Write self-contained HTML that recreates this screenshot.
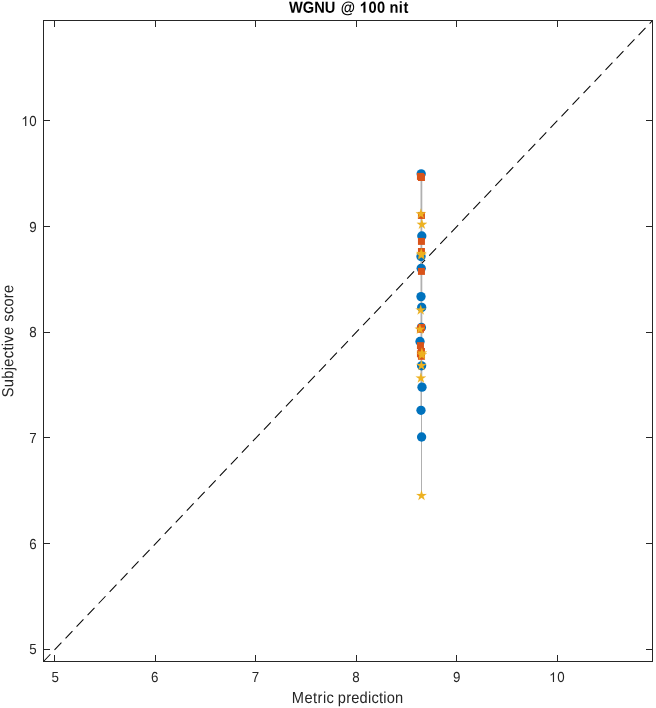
<!DOCTYPE html>
<html><head><meta charset="utf-8"><title>WGNU @ 100 nit</title>
<style>
html,body{margin:0;padding:0;background:#fff;}
body{width:656px;height:708px;overflow:hidden;}
svg{display:block;will-change:transform;font-family:"Liberation Sans",sans-serif;}
</style></head><body>
<svg width="656" height="708" viewBox="0 0 656 708">
<rect x="0" y="0" width="656" height="708" fill="#ffffff"/>
<rect x="420" y="174" width="1" height="236" fill="#d8d8d8"/>
<rect x="422" y="174" width="1" height="212" fill="#e8e8e8"/>
<line x1="43.5" y1="661.5" x2="652.5" y2="20.5" stroke="#0a0a0a" stroke-width="1.08" stroke-dasharray="10 6"/>
<rect x="421" y="174" width="1" height="321.5" fill="#b0b0b0"/>
<g fill="#0072BD">
<circle cx="421.2" cy="173.85" r="4.65"/>
<circle cx="421.8" cy="236" r="4.65"/>
<circle cx="421" cy="256.5" r="4.65"/>
<circle cx="421.2" cy="268.35" r="4.65"/>
<circle cx="421" cy="296.6" r="4.65"/>
<circle cx="421.7" cy="307.4" r="4.65"/>
<circle cx="421.4" cy="327.5" r="4.65"/>
<circle cx="420" cy="341.5" r="4.65"/>
<circle cx="421.6" cy="365.8" r="4.65"/>
<circle cx="422" cy="387.15" r="4.65"/>
<circle cx="421" cy="410.3" r="4.65"/>
<circle cx="421.6" cy="437" r="4.65"/>
</g>
<g fill="#D95319">
<rect x="416.95" y="172.90" width="7" height="7"/>
<rect x="417.95" y="174.00" width="7" height="7"/>
<rect x="417.95" y="211.95" width="7" height="7"/>
<rect x="417.95" y="237.90" width="7" height="7"/>
<rect x="417.95" y="248.00" width="7" height="7"/>
<rect x="417.95" y="267.90" width="7" height="7"/>
<rect x="417.95" y="323.90" width="7" height="7"/>
<rect x="416.95" y="325.80" width="7" height="7"/>
<rect x="416.95" y="342.15" width="7" height="7"/>
<rect x="417.95" y="348.00" width="7" height="7"/>
<rect x="416.95" y="350.30" width="7" height="7"/>
<rect x="417.95" y="352.80" width="7" height="7"/>
</g>
<g fill="#EDB120" stroke="#EDB120" stroke-width="0.15" stroke-linejoin="miter">
<polygon points="420.90,208.60 422.11,212.33 426.04,212.33 422.86,214.64 424.07,218.37 420.90,216.06 417.73,218.37 418.94,214.64 415.76,212.33 419.69,212.33"/>
<polygon points="421.90,219.10 423.11,222.83 427.04,222.83 423.86,225.14 425.07,228.87 421.90,226.56 418.73,228.87 419.94,225.14 416.76,222.83 420.69,222.83"/>
<polygon points="421.30,248.15 422.51,251.88 426.44,251.88 423.26,254.19 424.47,257.92 421.30,255.61 418.13,257.92 419.34,254.19 416.16,251.88 420.09,251.88"/>
<polygon points="421.30,249.70 422.51,253.43 426.44,253.43 423.26,255.74 424.47,259.47 421.30,257.16 418.13,259.47 419.34,255.74 416.16,253.43 420.09,253.43"/>
<polygon points="420.70,304.80 421.91,308.53 425.84,308.53 422.66,310.84 423.87,314.57 420.70,312.26 417.53,314.57 418.74,310.84 415.56,308.53 419.49,308.53"/>
<polygon points="419.90,323.90 421.11,327.63 425.04,327.63 421.86,329.94 423.07,333.67 419.90,331.36 416.73,333.67 417.94,329.94 414.76,327.63 418.69,327.63"/>
<polygon points="421.90,347.70 423.11,351.43 427.04,351.43 423.86,353.74 425.07,357.47 421.90,355.16 418.73,357.47 419.94,353.74 416.76,351.43 420.69,351.43"/>
<polygon points="421.90,349.50 423.11,353.23 427.04,353.23 423.86,355.54 425.07,359.27 421.90,356.96 418.73,359.27 419.94,355.54 416.76,353.23 420.69,353.23"/>
<polygon points="421.40,360.30 422.61,364.03 426.54,364.03 423.36,366.34 424.57,370.07 421.40,367.76 418.23,370.07 419.44,366.34 416.26,364.03 420.19,364.03"/>
<polygon points="420.90,372.75 422.11,376.48 426.04,376.48 422.86,378.79 424.07,382.52 420.90,380.21 417.73,382.52 418.94,378.79 415.76,376.48 419.69,376.48"/>
<polygon points="421.50,490.30 422.71,494.03 426.64,494.03 423.46,496.34 424.67,500.07 421.50,497.76 418.33,500.07 419.54,496.34 416.36,494.03 420.29,494.03"/>
</g>
<g stroke="#262626" stroke-width="1" fill="none" shape-rendering="crispEdges">
<rect x="43.5" y="20.5" width="609.0" height="641.0"/>
<line x1="54.5" y1="661.5" x2="54.5" y2="655.0"/>
<line x1="54.5" y1="20.5" x2="54.5" y2="27.0"/>
<line x1="155.5" y1="661.5" x2="155.5" y2="655.0"/>
<line x1="155.5" y1="20.5" x2="155.5" y2="27.0"/>
<line x1="255.5" y1="661.5" x2="255.5" y2="655.0"/>
<line x1="255.5" y1="20.5" x2="255.5" y2="27.0"/>
<line x1="356.5" y1="661.5" x2="356.5" y2="655.0"/>
<line x1="356.5" y1="20.5" x2="356.5" y2="27.0"/>
<line x1="456.5" y1="661.5" x2="456.5" y2="655.0"/>
<line x1="456.5" y1="20.5" x2="456.5" y2="27.0"/>
<line x1="557.5" y1="661.5" x2="557.5" y2="655.0"/>
<line x1="557.5" y1="20.5" x2="557.5" y2="27.0"/>
<line x1="43.5" y1="649.5" x2="50.0" y2="649.5"/>
<line x1="652.5" y1="649.5" x2="646.0" y2="649.5"/>
<line x1="43.5" y1="543.5" x2="50.0" y2="543.5"/>
<line x1="652.5" y1="543.5" x2="646.0" y2="543.5"/>
<line x1="43.5" y1="437.5" x2="50.0" y2="437.5"/>
<line x1="652.5" y1="437.5" x2="646.0" y2="437.5"/>
<line x1="43.5" y1="332.5" x2="50.0" y2="332.5"/>
<line x1="652.5" y1="332.5" x2="646.0" y2="332.5"/>
<line x1="43.5" y1="226.5" x2="50.0" y2="226.5"/>
<line x1="652.5" y1="226.5" x2="646.0" y2="226.5"/>
<line x1="43.5" y1="120.5" x2="50.0" y2="120.5"/>
<line x1="652.5" y1="120.5" x2="646.0" y2="120.5"/>
</g>
<text transform="translate(55.1,682) rotate(0.05) scale(1,1.09)" text-anchor="middle" font-size="13.33px" fill="#262626">5</text>
<text transform="translate(154.8,682) rotate(0.05) scale(1,1.09)" text-anchor="middle" font-size="13.33px" fill="#262626">6</text>
<text transform="translate(255.4,682) rotate(0.05) scale(1,1.09)" text-anchor="middle" font-size="13.33px" fill="#262626">7</text>
<text transform="translate(356.0,682) rotate(0.05) scale(1,1.09)" text-anchor="middle" font-size="13.33px" fill="#262626">8</text>
<text transform="translate(456.6,682) rotate(0.05) scale(1,1.09)" text-anchor="middle" font-size="13.33px" fill="#262626">9</text>
<path transform="translate(549.09,682) scale(0.006509,-0.006704)" d="M763 0L583 0L583 1147Q518 1085 412.5 1023Q307 961 223 930L223 1104Q374 1175 487 1276Q600 1377 647 1472L763 1472Z" fill="#262626"/>
<text transform="translate(557.2,682) rotate(0.05) scale(1,1.09)" text-anchor="start" font-size="13.33px" fill="#262626">0</text>
<text transform="translate(36.6,653.9) rotate(0.05) scale(1,1.09)" text-anchor="end" font-size="13.33px" fill="#262626">5</text>
<text transform="translate(36.6,548.9) rotate(0.05) scale(1,1.09)" text-anchor="end" font-size="13.33px" fill="#262626">6</text>
<text transform="translate(36.6,442.9) rotate(0.05) scale(1,1.09)" text-anchor="end" font-size="13.33px" fill="#262626">7</text>
<text transform="translate(36.6,336.9) rotate(0.05) scale(1,1.09)" text-anchor="end" font-size="13.33px" fill="#262626">8</text>
<text transform="translate(36.6,231.9) rotate(0.05) scale(1,1.09)" text-anchor="end" font-size="13.33px" fill="#262626">9</text>
<path transform="translate(21.32,125.9) scale(0.006509,-0.006704)" d="M763 0L583 0L583 1147Q518 1085 412.5 1023Q307 961 223 930L223 1104Q374 1175 487 1276Q600 1377 647 1472L763 1472Z" fill="#262626"/>
<text transform="translate(36.6,125.9) rotate(0.05) scale(1,1.09)" text-anchor="end" font-size="13.33px" fill="#262626">0</text>
<text transform="translate(291.8,703) rotate(0.05) scale(1,1.09)" text-anchor="start" font-size="14.67px" letter-spacing="0.45" fill="#262626">Metric</text>
<text transform="translate(337.8,703) rotate(0.05) scale(1,1.09)" text-anchor="start" font-size="14.67px" letter-spacing="0.2" fill="#262626">prediction</text>
<text transform="translate(13.2,397.2) rotate(-90.05) scale(1,1.09)" text-anchor="start" font-size="14.67px" letter-spacing="0.3" fill="#262626">Subjective</text>
<text transform="translate(13.2,321.7) rotate(-90.05) scale(1,1.09)" text-anchor="start" font-size="14.67px" letter-spacing="0.25" fill="#262626">score</text>
<text transform="translate(288.9,12.8) rotate(0.05) scale(1,1.09)" text-anchor="start" font-size="14.67px" font-weight="bold" fill="#000">WGNU</text>
<text transform="translate(340.8,12.8) rotate(0.05) scale(1,1.09)" text-anchor="start" font-size="14.67px" font-weight="bold" fill="#000">@</text>
<path transform="translate(359.7,12.8) scale(0.007163,-0.007521)" d="M806 0L525 0L525 1059Q371 915 162 846L162 1101Q272 1137 401 1237.5Q530 1338 578 1472L806 1472Z" fill="#000"/>
<text transform="translate(368.46,12.8) rotate(0.05) scale(1,1.09)" text-anchor="start" font-size="14.67px" font-weight="bold" letter-spacing="0.3" fill="#000">00</text>
<text transform="translate(389.4,12.8) rotate(0.05) scale(1,1.09)" text-anchor="start" font-size="14.67px" font-weight="bold" letter-spacing="0.5" fill="#000">nit</text>
</svg></body></html>
